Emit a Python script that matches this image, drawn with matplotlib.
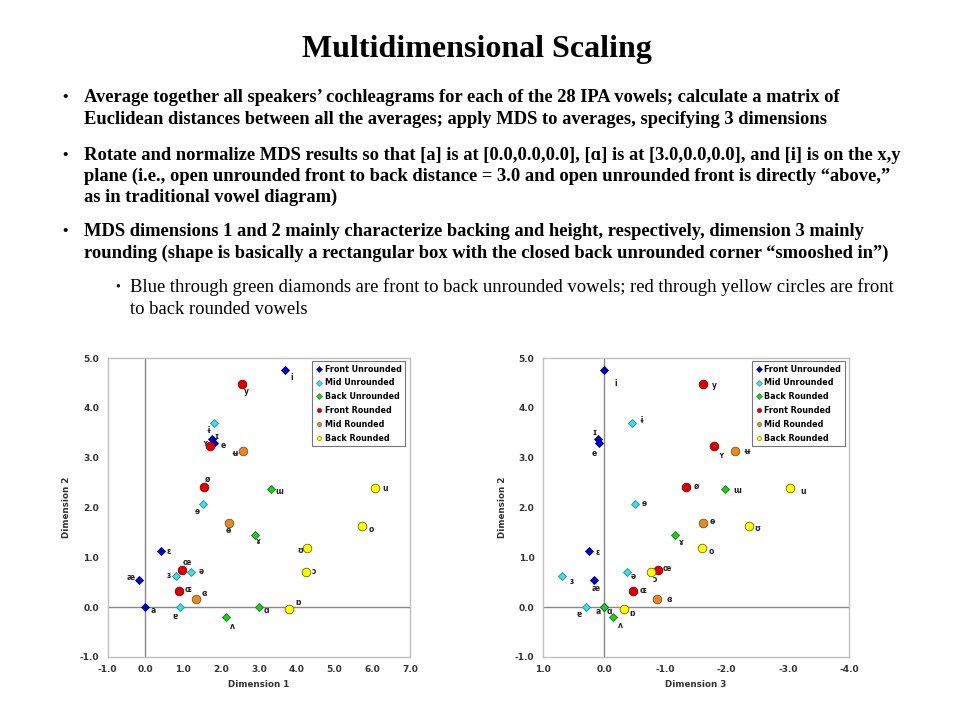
import matplotlib.pyplot as plt

# MDS coordinates of the 28 IPA vowels
vowels = ['i', 'e', 'ɪ', 'ɛ', 'æ', 'a',
          'ɨ', 'ɘ', 'ɜ', 'ə', 'ɐ',
          'ɯ', 'ɤ', 'ʌ', 'ɑ',
          'y', 'ʏ', 'ø', 'œ', 'ɶ',
          'ʉ', 'ɵ', 'ɞ',
          'u', 'ʊ', 'o', 'ɔ', 'ɒ']
groups = (['Front Unrounded'] * 6 + ['Mid Unrounded'] * 5 + ['Back Unrounded'] * 4
          + ['Front Rounded'] * 5 + ['Mid Rounded'] * 3 + ['Back Rounded'] * 5)
dim1 = [3.69, 1.82, 1.76, 0.41, -0.17, 0.0,
        1.82, 1.52, 0.81, 1.21, 0.92,
        3.32, 2.90, 2.13, 3.00,
        2.57, 1.71, 1.54, 0.98, 0.89,
        2.59, 2.20, 1.34,
        6.08, 4.28, 5.72, 4.24, 3.80]
dim2 = [4.75, 3.30, 3.37, 1.12, 0.54, 0.0,
        3.69, 2.07, 0.62, 0.71, 0.0,
        2.38, 1.45, -0.20, 0.0,
        4.47, 3.23, 2.42, 0.74, 0.33,
        3.13, 1.69, 0.17,
        2.39, 1.19, 1.62, 0.70, -0.04]
dim3 = [0.0, 0.08, 0.10, 0.24, 0.17, 0.0,
        -0.46, -0.51, 0.68, -0.38, 0.29,
        -1.98, -1.15, -0.15, 0.0,
        -1.62, -1.79, -1.34, -0.88, -0.48,
        -2.14, -1.61, -0.87,
        -3.03, -1.59, -2.37, -0.77, -0.33]
# the right-hand chart in the source labels these two points the other way round
labels_right = ['ʊ' if v == 'o' else 'o' if v == 'ʊ' else v for v in vowels]

legend_left = ['Front Unrounded', 'Mid Unrounded', 'Back Unrounded',
               'Front Rounded', 'Mid Rounded', 'Back Rounded']
legend_right = ['Front Unrounded', 'Mid Unrounded', 'Back Rounded',
                'Front Rounded', 'Mid Rounded', 'Back Rounded']

ticks1 = [-1, 0, 1, 2, 3, 4, 5, 6, 7]
ticks2 = [-1, 0, 1, 2, 3, 4, 5]
ticks3 = [1, 0, -1, -2, -3, -4]

# label offsets in pixels (dx, dy)
off_left = [(7, -7), (9, -3), (5, 3), (8, 0), (-8, 3), (8, -3),
            (-6, -7), (-6, -7), (-7, 1), (10, 0), (-5, -9),
            (8, -3), (3, -7), (7, -9), (8, -3),
            (4, -7), (-5, 3), (4, 7), (4, 8), (9, 1),
            (-8, -2), (0, -8), (8, 5),
            (10, 0), (-7, -3), (10, -3), (8, 1), (9, 7)]
off_right = [(12, -13), (-5, -11), (-3, 7), (8, -1), (2, -8), (-6, -4),
             (9, 3), (9, 1), (9, -5), (6, -5), (-7, -7),
             (12, -2), (7, -8), (7, -8), (5, -4),
             (11, -1), (7, -9), (10, 0), (9, 2), (10, 0),
             (12, 0), (10, 1), (12, -1),
             (13, -3), (10, -4), (8, -2), (4, -7), (8, -4)]

styles = {
    'Front Unrounded': ('D', '#0000cc', '#000077', 4.5),
    'Mid Unrounded': ('D', '#40e0e0', '#208a9a', 4.5),
    'Back Unrounded': ('D', '#22cc22', '#117711', 4.5),
    'Front Rounded': ('o', '#dd0000', '#800000', 6.2),
    'Mid Rounded': ('o', '#e08a28', '#8a4e10', 6.2),
    'Back Rounded': ('o', '#ffff00', '#6a6a00', 6.2),
}
order = legend_left

plt.rcParams['font.family'] = ['DejaVu Sans']
fig = plt.figure(figsize=(9.6, 7.2), dpi=100)

serif = ['Liberation Serif', 'DejaVu Serif']
W, H = 960.0, 720.0


def ftext(x, y, s, **kw):
    fig.text(x / W, 1 - y / H, s, family=serif, va='center', **kw)


ftext(477, 50, 'Multidimensional Scaling', fontsize=23, weight='bold', ha='center')

main_lines = [
    (98, True, 'Average together all speakers’ cochleagrams for each of the 28 IPA vowels; calculate a matrix of'),
    (119, False, 'Euclidean distances between all the averages; apply MDS to averages, specifying 3 dimensions'),
    (155, True, 'Rotate and normalize MDS results so that [a] is at [0.0,0.0,0.0], [ɑ] is at [3.0,0.0,0.0], and [i] is on the x,y'),
    (176, False, 'plane (i.e., open unrounded front to back distance = 3.0 and open unrounded front is directly “above,”'),
    (197, False, 'as in traditional vowel diagram)'),
    (232, True, 'MDS dimensions 1 and 2 mainly characterize backing and height, respectively, dimension 3 mainly'),
    (253, False, 'rounding (shape is basically a rectangular box with the closed back unrounded corner “smooshed in”)'),
]
for y, bullet, s in main_lines:
    if bullet:
        ftext(62, y, '•', fontsize=11, weight='bold')
    ftext(84, y, s, fontsize=13.3, weight='bold')

sub_lines = [
    (287, True, 'Blue through green diamonds are front to back unrounded vowels; red through yellow circles are front'),
    (309, False, 'to back rounded vowels'),
]
for y, bullet, s in sub_lines:
    if bullet:
        ftext(115, y, '•', fontsize=10)
    ftext(130, y, s, fontsize=13.4)


def draw(ax, xs, ys, labels, offs, legend_names, xlim, yticks, xticks, xlabel):
    for g in order:
        m, fc, ec, ms = styles[g]
        idx = [k for k, gg in enumerate(groups) if gg == g]
        ax.plot([xs[k] for k in idx], [ys[k] for k in idx], m, color=fc,
                markeredgecolor=ec, markeredgewidth=0.6, markersize=ms,
                linestyle='none', zorder=3)
    for k in range(len(xs)):
        dx, dy = offs[k]
        ax.annotate(labels[k], (xs[k], ys[k]), xytext=(dx * 0.72, dy * 0.72),
                    textcoords='offset points', ha='center', va='center',
                    fontsize=5.5, weight='bold', color='#222222', zorder=4)
    ax.axhline(0, color='#888888', lw=1.0, zorder=1)
    ax.axvline(0, color='#888888', lw=1.0, zorder=1)
    ax.set_xlim(*xlim)
    ax.set_ylim(-1, 5)
    ax.set_xticks(xticks)
    ax.set_yticks(yticks)
    ax.set_xticklabels(['%.1f' % t for t in xticks])
    ax.set_yticklabels(['%.1f' % t for t in yticks])
    ax.tick_params(length=0, labelsize=6.5, colors='#333333', pad=6)
    for t in ax.get_xticklabels() + ax.get_yticklabels():
        t.set_fontweight('bold')
    for sp in ax.spines.values():
        sp.set_color('#c0c0c0')
        sp.set_linewidth(1.0)
    ax.set_xlabel(xlabel, fontsize=6.3, weight='bold', color='#333333', labelpad=4)
    ax.set_ylabel('Dimension 2', fontsize=6.3, weight='bold', color='#333333', labelpad=6)
    leg_handles = []
    for g in order:
        m, fc, ec, ms = styles[g]
        h, = ax.plot([], [], m, color=fc, markeredgecolor=ec, markeredgewidth=0.4,
                     markersize=3, linestyle='none')
        leg_handles.append(h)
    leg = ax.legend(leg_handles, legend_names, loc='upper right',
                    bbox_to_anchor=(0.985, 0.99), fontsize=5.8, frameon=True,
                    fancybox=False, edgecolor='#555555', borderpad=0.45,
                    handlelength=0.8, handletextpad=0.3, labelspacing=0.6,
                    borderaxespad=0)
    leg.get_frame().set_linewidth(0.8)
    for t in leg.get_texts():
        t.set_fontweight('bold')


ax1 = fig.add_axes([107.5 / W, 1 - 657 / H, 302.5 / W, 299 / H])
draw(ax1, dim1, dim2, vowels, off_left, legend_left, (-1, 7), ticks2, ticks1, 'Dimension 1')

ax2 = fig.add_axes([542.7 / W, 1 - 657 / H, 306.6 / W, 299 / H])
draw(ax2, dim3, dim2, labels_right, off_right, legend_right, (1, -4), ticks2, ticks3, 'Dimension 3')

fig.savefig('out.png', dpi=100)
